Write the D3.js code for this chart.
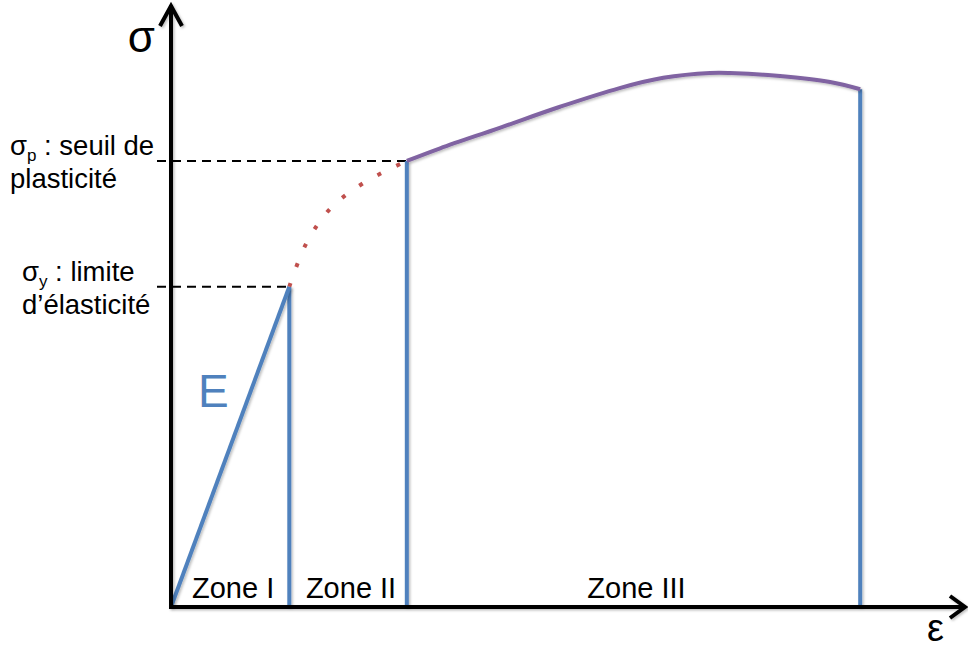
<!DOCTYPE html>
<html>
<head>
<meta charset="utf-8">
<script src="https://cdn.jsdelivr.net/npm/d3@7"></script>
<style>
  body { margin: 0; background: #fff; }
  svg { display: block; font-family: "Liberation Sans", Arial, Helvetica, sans-serif; }
</style>
</head>
<body>
<svg width="968" height="650"></svg>
<script>
// strain (x) and stress (y) in arbitrary units 0..100
const zoneBounds = [0, 14.9, 29.7, 86.8];
const zoneLabels = ['Zone I', 'Zone II', 'Zone III'];

const elasticStrain = [0, 14.9];
const elasticStress = [0, 53.2];

const transStrain = [14.9, 17.0, 20.0, 24.2, 29.7];
const transStress = [53.2, 60.3, 66.1, 70.4, 74.1];

const plasticStrain = [29.7, 33.9, 41.4, 49.0, 56.5, 62.0, 67.9, 70.4, 76.7, 83.0, 86.8];
const plasticStress = [74.1, 76.2, 79.6, 83.1, 86.2, 87.9, 88.7, 88.7, 88.2, 87.2, 86.0];

const thresholdStrain = [14.9, 29.7];
const thresholdStress = [53.2, 74.1];
const thresholdSymbols = ['y', 'p'];
const thresholdLine1 = [' : limite', ' : seuil de'];
const thresholdLine2 = ['d\u2019élasticité', 'plasticité'];

const BLUE = '#4f81bd', PURPLE = '#8064a2', RED = '#c0504d';

const x = d3.scaleLinear().domain([0, 100]).range([171, 965]);
const y = d3.scaleLinear().domain([0, 100]).range([607, 5]);

const svg = d3.select('svg');

// soft shadow like the original slide
svg.append('defs').append('filter').attr('id', 'sh')
  .attr('filterUnits', 'userSpaceOnUse')
  .attr('x', 0).attr('y', 0).attr('width', 968).attr('height', 650)
  .append('feDropShadow').attr('dx', 1.5).attr('dy', 1.5).attr('stdDeviation', 1)
  .attr('flood-color', '#000').attr('flood-opacity', 0.25);

const zip = (a, b) => a.map((v, i) => [v, b[i]]);
const line = d3.line().x(d => x(d[0])).y(d => y(d[1]));
const curve = d3.line().x(d => x(d[0])).y(d => y(d[1])).curve(d3.curveCatmullRom);

// dashed threshold guides + ticks
svg.selectAll('.guide')
  .data(thresholdStress)
  .enter()
  .append('line')
  .attr('x1', x(0) - 14)
  .attr('x2', (d, i) => x(thresholdStrain[i]))
  .attr('y1', d => y(d))
  .attr('y2', d => y(d))
  .attr('stroke', '#000')
  .attr('stroke-width', 2)
  .attr('stroke-dasharray', '9 6');

// zone boundaries
const tops = [elasticStress[1], transStress[transStress.length - 1], plasticStress[plasticStress.length - 1]];
svg.selectAll('.zone')
  .data(zoneBounds.slice(1))
  .enter()
  .append('line')
  .attr('x1', d => x(d)).attr('x2', d => x(d))
  .attr('y1', (d, i) => y(tops[i]))
  .attr('y2', y(0))
  .attr('stroke', BLUE)
  .attr('stroke-width', 4)
  .attr('filter', 'url(#sh)');

// elastic line
svg.append('path')
  .attr('d', line(zip(elasticStrain, elasticStress)))
  .attr('fill', 'none').attr('stroke', BLUE).attr('stroke-width', 4)
  .attr('filter', 'url(#sh)');

// transition (dotted)
svg.append('path')
  .attr('d', curve(zip(transStrain, transStress)))
  .attr('fill', 'none').attr('stroke', RED).attr('stroke-width', 4)
  .attr('stroke-dasharray', '4 17');

// plastic curve
svg.append('path')
  .attr('d', curve(zip(plasticStrain, plasticStress)))
  .attr('fill', 'none').attr('stroke', PURPLE).attr('stroke-width', 4)
  .attr('filter', 'url(#sh)');

// axes
const axes = svg.append('g').attr('stroke', '#000').attr('fill', 'none').attr('filter', 'url(#sh)');
axes.append('path')
  .attr('d', `M${x(0)},${y(100)} L${x(0)},${y(0)} L${x(100)},${y(0)}`)
  .attr('stroke-width', 4).attr('stroke-linejoin', 'miter');
axes.append('path')
  .attr('d', `M${x(0) - 11},${y(100) + 21} L${x(0)},${y(100) + 1} L${x(0) + 11},${y(100) + 21}`)
  .attr('stroke-width', 4).attr('stroke-linejoin', 'miter');
axes.append('path')
  .attr('d', `M${x(100) - 15},${y(0) - 11} L${x(100)},${y(0)} L${x(100) - 15},${y(0) + 11}`)
  .attr('stroke-width', 4).attr('stroke-linejoin', 'miter');

// axis symbols
svg.append('text').attr('x', 155).attr('y', 52).attr('text-anchor', 'end')
  .attr('font-size', 44).text('σ');
svg.append('text').attr('x', 944).attr('y', 641).attr('text-anchor', 'end')
  .attr('font-size', 38).text('ε');

// E label
svg.append('text').attr('x', 198).attr('y', 407).attr('fill', BLUE)
  .attr('font-size', 46).text('E');

// zone labels
svg.selectAll('.zlabel')
  .data(zoneLabels)
  .enter()
  .append('text')
  .attr('x', (d, i) => x((zoneBounds[i] + zoneBounds[i + 1]) / 2) + 3)
  .attr('y', 598)
  .attr('text-anchor', 'middle')
  .attr('font-size', 29)
  .text(d => d);

// threshold labels
const labX = [22, 10];
thresholdStress.forEach((s, i) => {
  const t = svg.append('text').attr('x', labX[i]).attr('y', y(s) - 6).attr('font-size', 27.5);
  t.append('tspan').text('σ');
  t.append('tspan').attr('font-size', 17).attr('dy', 6).text(thresholdSymbols[i]);
  t.append('tspan').attr('dy', -6).text(thresholdLine1[i]);
  svg.append('text').attr('x', labX[i]).attr('y', y(s) + 27).attr('font-size', 27.5)
    .text(thresholdLine2[i]);
});
</script>
</body>
</html>
